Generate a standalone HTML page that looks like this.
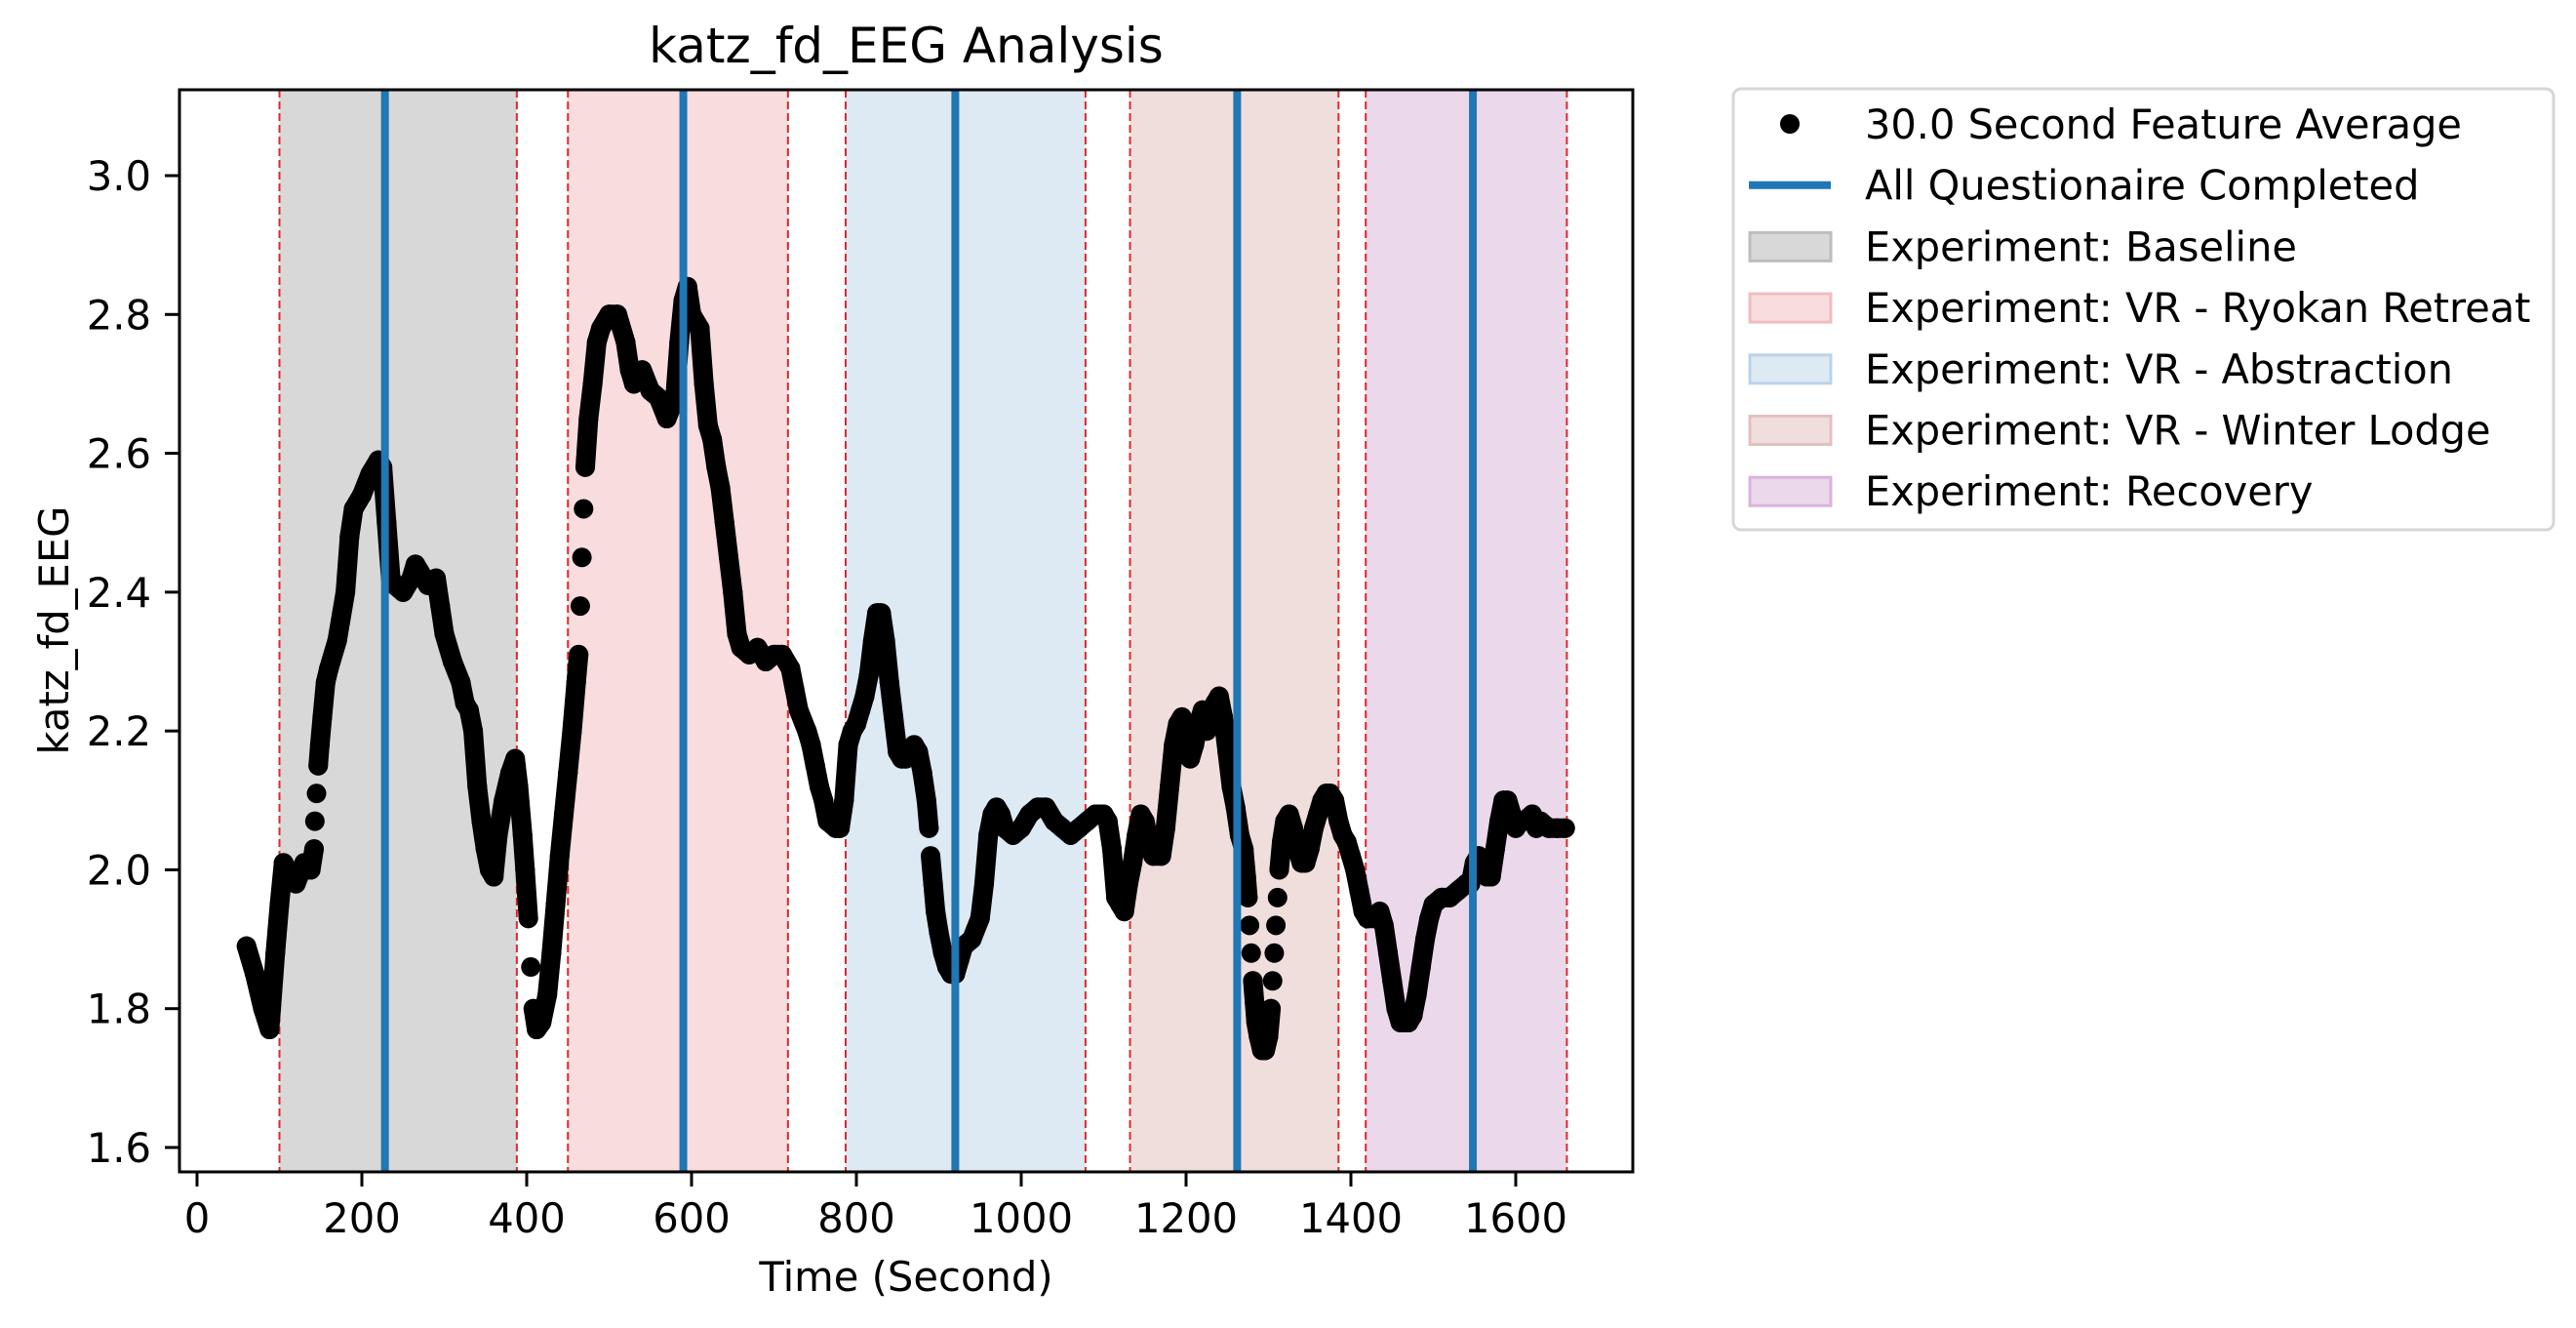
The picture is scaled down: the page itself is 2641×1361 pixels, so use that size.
<!DOCTYPE html>
<html><head><meta charset="utf-8"><style>
html,body{margin:0;padding:0;background:#fff;}
svg{display:block;font-family:"DejaVu Sans","Liberation Sans",sans-serif;}
</style></head><body>
<svg id="chart" width="2641" height="1361" viewBox="0 0 2641 1361" xmlns="http://www.w3.org/2000/svg">
<rect width="2641" height="1361" fill="#fff"/>
<g id="spans"></g>
<g id="dashes"></g>
<g id="dots"></g>
<g id="vlines"></g>
<rect x="184" y="92" width="1490" height="1109" fill="none" stroke="#000" stroke-width="3"/>
<g id="xticks"></g>
<g id="yticks"></g>
<text x="929" y="64" font-size="50" text-anchor="middle">katz_fd_EEG Analysis</text>
<text x="929" y="1323" font-size="41.7" text-anchor="middle">Time (Second)</text>
<text x="0" y="0" font-size="41.7" text-anchor="middle" transform="translate(70,646) rotate(-90)">katz_fd_EEG</text>
<g id="legend">
<rect x="1777" y="91" width="841" height="452" rx="8" fill="#fff" stroke="#d6d6d6" stroke-width="3"/>
</g>
</svg>
<script>
const times=[60,70,80,88,90,95,100,105,110,120,130,138,142,143,145,147,149,152,156,160,170,180,185,190,200,210,220,225,230,235,240,250,260,265,270,280,290,295,300,310,320,325,330,335,340,345,350,355,360,365,372,380,386,390,395,398,402,405,408,412,418,425,430,435,440,445,450,455,460,463,465,467,469,471,475,480,485,490,500,510,520,525,530,540,550,560,570,580,585,590,595,600,610,615,620,625,630,635,640,645,650,655,660,670,680,690,700,710,720,725,730,740,745,750,755,760,765,775,780,785,790,795,800,805,810,815,820,825,830,835,840,845,850,855,860,865,870,875,880,885,888,890,893,896,900,905,910,915,920,925,930,940,950,955,960,965,970,975,980,990,1000,1010,1020,1030,1040,1050,1060,1070,1080,1090,1100,1105,1110,1115,1120,1125,1130,1135,1140,1145,1150,1155,1160,1170,1175,1180,1185,1190,1195,1200,1205,1210,1215,1220,1225,1230,1235,1240,1245,1250,1255,1260,1265,1270,1273,1275,1277,1279,1281,1283,1285,1288,1292,1296,1300,1303,1305,1307,1309,1311,1313,1316,1320,1325,1330,1335,1340,1345,1350,1355,1360,1365,1370,1375,1380,1385,1390,1395,1400,1405,1410,1415,1420,1430,1435,1440,1445,1450,1455,1460,1470,1475,1480,1485,1490,1495,1500,1510,1520,1530,1540,1545,1550,1555,1560,1565,1570,1575,1580,1585,1590,1595,1600,1605,1610,1620,1625,1630,1640,1650,1660];
const values=[1.89,1.85,1.80,1.77,1.80,1.88,1.95,2.01,2.00,1.98,2.01,2.00,2.03,2.07,2.11,2.15,2.18,2.22,2.27,2.29,2.33,2.40,2.48,2.52,2.54,2.57,2.59,2.58,2.50,2.42,2.41,2.40,2.42,2.44,2.43,2.41,2.42,2.38,2.34,2.30,2.27,2.24,2.23,2.20,2.12,2.07,2.03,2.00,1.99,2.05,2.10,2.14,2.16,2.12,2.05,2.00,1.93,1.86,1.80,1.77,1.78,1.82,1.88,1.95,2.02,2.08,2.14,2.20,2.27,2.31,2.38,2.45,2.52,2.58,2.65,2.70,2.76,2.78,2.80,2.80,2.76,2.72,2.70,2.72,2.69,2.68,2.65,2.68,2.76,2.82,2.84,2.80,2.78,2.70,2.64,2.62,2.58,2.55,2.50,2.45,2.40,2.34,2.32,2.31,2.32,2.30,2.31,2.31,2.29,2.26,2.23,2.20,2.18,2.15,2.12,2.10,2.07,2.06,2.06,2.10,2.18,2.20,2.21,2.23,2.25,2.28,2.33,2.37,2.37,2.33,2.27,2.22,2.17,2.16,2.16,2.17,2.18,2.17,2.14,2.10,2.06,2.02,1.98,1.94,1.91,1.88,1.86,1.85,1.85,1.87,1.89,1.90,1.93,1.98,2.05,2.08,2.09,2.08,2.06,2.05,2.06,2.08,2.09,2.09,2.07,2.06,2.05,2.06,2.07,2.08,2.08,2.07,2.03,1.96,1.95,1.94,1.98,2.01,2.05,2.08,2.07,2.04,2.02,2.02,2.06,2.12,2.18,2.21,2.22,2.19,2.16,2.18,2.21,2.23,2.20,2.22,2.24,2.25,2.22,2.17,2.12,2.09,2.05,2.03,1.99,1.96,1.92,1.88,1.84,1.81,1.78,1.76,1.74,1.74,1.76,1.80,1.84,1.88,1.92,1.96,2.00,2.04,2.07,2.08,2.06,2.03,2.01,2.01,2.03,2.06,2.08,2.10,2.11,2.11,2.10,2.07,2.05,2.04,2.02,2.00,1.97,1.94,1.93,1.93,1.94,1.92,1.88,1.84,1.80,1.78,1.78,1.79,1.82,1.86,1.90,1.93,1.95,1.96,1.96,1.97,1.98,1.98,2.01,2.02,2.01,1.99,1.99,2.03,2.07,2.10,2.10,2.08,2.06,2.07,2.07,2.08,2.06,2.07,2.06,2.06,2.06];
const spanStarts=[100,450,787,1132,1418];
const spanEnds=[388,717,1078,1385,1662];
const spanLabels=["Experiment: Baseline","Experiment: VR - Ryokan Retreat","Experiment: VR - Abstraction","Experiment: VR - Winter Lodge","Experiment: Recovery"];
const questionTimes=[228,590,920,1262,1548];
const xTicks=[0,200,400,600,800,1000,1200,1400,1600];
const yTicks=[1.6,1.8,2.0,2.2,2.4,2.6,2.8,3.0];

const spanFill=["#d8d8d8","#f8dcde","#dde9f3","#f0dedd","#ebd8eb"];
const spanEdge=["#bdbdbd","#f0bcbf","#bcd3e8","#e3c0bf","#d9b4dc"];
const NS="http://www.w3.org/2000/svg";
const X0=184,X1=1674,Y0=92,Y1=1201;
function xs(t){return 202+(t-0)*(1554-202)/1600;}
function ys(v){return 1176-(v-1.6)*(1176-180)/1.4;}
function mk(tag,attrs,parent){const e=document.createElementNS(NS,tag);for(const k in attrs)e.setAttribute(k,attrs[k]);parent.appendChild(e);return e;}
const G=id=>document.getElementById(id);

spanStarts.forEach((s,i)=>{
  const r=mk('rect',{x:xs(s),y:Y0,width:xs(spanEnds[i])-xs(s),height:Y1-Y0,fill:spanFill[i]},G('spans'));
  
  
  [s,spanEnds[i]].forEach(t=>{
    const l=mk('line',{x1:xs(t),x2:xs(t),y1:Y0,y2:Y1,stroke:'#e0282a','stroke-width':2,'stroke-dasharray':'8,4'},G('dashes'));
    
    
  });
});
for(let i=1;i<times.length;i++){
  const dt=times[i]-times[i-1],dv=Math.abs(values[i]-values[i-1]);
  if(dv/dt>0.018) continue;
  const s=mk('line',{x1:xs(times[i-1]),y1:ys(values[i-1]),x2:xs(times[i]),y2:ys(values[i]),stroke:'#000','stroke-width':20,'stroke-linecap':'round'},G('dots'));
  
  
}
times.forEach((t,i)=>{
  const c=mk('circle',{cx:xs(t),cy:ys(values[i]),r:10,fill:'#000'},G('dots'));
  
  
});
questionTimes.forEach(t=>{
  const l=mk('line',{x1:xs(t),x2:xs(t),y1:Y0,y2:Y1,stroke:'#1f77b4','stroke-width':8},G('vlines'));
  
  
});
xTicks.forEach(t=>{
  const l=mk('line',{x1:xs(t),x2:xs(t),y1:Y1,y2:Y1+15,stroke:'#000','stroke-width':3},G('xticks'));
  
  
  const tx=mk('text',{x:xs(t),y:Y1+62,'font-size':41.7,'text-anchor':'middle'},G('xticks'));
  tx.textContent=t;
  
  
});
yTicks.forEach(v=>{
  const l=mk('line',{x1:X0-15,x2:X0,y1:ys(v),y2:ys(v),stroke:'#000','stroke-width':3},G('yticks'));
  
  
  const tx=mk('text',{x:155,y:ys(v)+15,'font-size':41.7,'text-anchor':'end'},G('yticks'));
  tx.textContent=v.toFixed(1);
  
  
});
const L=G('legend');const rowY=r=>127+r*62.7;
let e=mk('circle',{cx:1835,cy:rowY(0),r:10,fill:'#000'},L);


e=mk('line',{x1:1793,x2:1877,y1:rowY(1),y2:rowY(1),stroke:'#1f77b4','stroke-width':8},L);


const labels=["30.0 Second Feature Average","All Questionaire Completed"].concat(spanLabels);
spanLabels.forEach((s,i)=>{
  const r=mk('rect',{x:1794,y:rowY(i+2)-14,width:83,height:29,fill:spanFill[i],stroke:spanEdge[i],'stroke-width':3},L);
  
  
});
labels.forEach((s,i)=>{
  const t=mk('text',{x:1912,y:rowY(i)+15,'font-size':41.5},L);
  t.textContent=s;
  
  
});
</script>
</body></html>
